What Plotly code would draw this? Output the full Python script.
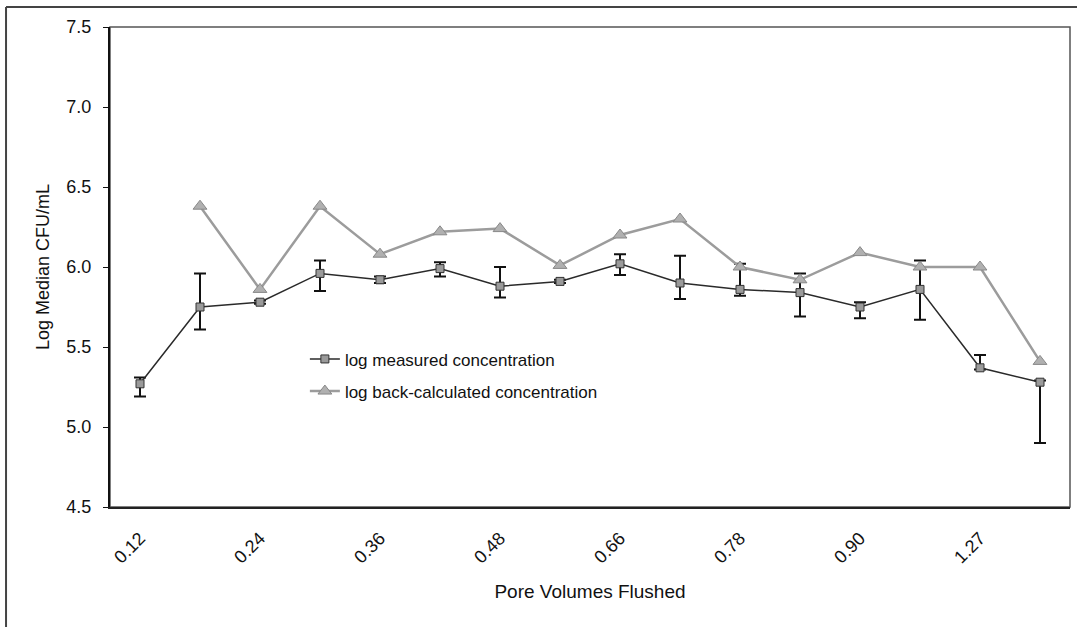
import plotly.graph_objects as go

# Data
point_pos = [0, 1, 2, 3, 4, 5, 6, 7, 8, 9, 10, 11, 12, 13, 14, 15]
tick_pos = [0, 2, 4, 6, 8, 10, 12, 14]
tick_labels = ["0.12", "0.24", "0.36", "0.48", "0.66", "0.78", "0.90", "1.27"]

measured = [5.27, 5.75, 5.78, 5.96, 5.92, 5.99, 5.88, 5.91, 6.02, 5.90, 5.86, 5.84, 5.75, 5.86, 5.37, 5.28]
err_plus = [0.04, 0.21, 0.01, 0.08, 0.02, 0.04, 0.12, 0.01, 0.06, 0.17, 0.16, 0.12, 0.03, 0.18, 0.08, 0.01]
err_minus = [0.08, 0.14, 0.01, 0.11, 0.02, 0.05, 0.07, 0.01, 0.07, 0.10, 0.04, 0.15, 0.07, 0.19, 0.01, 0.38]

back_pos = [1, 2, 3, 4, 5, 6, 7, 8, 9, 10, 11, 12, 13, 14, 15]
back_calc = [6.38, 5.86, 6.38, 6.08, 6.22, 6.24, 6.01, 6.20, 6.30, 6.00, 5.92, 6.09, 6.00, 6.00, 5.41]

y_ticks = [4.5, 5.0, 5.5, 6.0, 6.5, 7.0, 7.5]
y_tick_labels = ["4.5", "5.0", "5.5", "6.0", "6.5", "7.0", "7.5"]

font_family = "Liberation Sans, Arial, sans-serif"

fig = go.Figure()

fig.add_trace(go.Scatter(
    x=point_pos, y=measured,
    mode="lines+markers",
    name="log measured concentration",
    legendgroup="m",
    line=dict(color="#2a2a2a", width=1.5),
    marker=dict(symbol="square", size=8, color="#9a9a9a",
                line=dict(color="#333333", width=1)),
    error_y=dict(type="data", symmetric=False, array=err_plus, arrayminus=err_minus,
                 color="#111111", thickness=2, width=6),
))

fig.add_trace(go.Scatter(
    x=back_pos, y=back_calc,
    mode="lines+markers",
    name="log back-calculated concentration",
    legendgroup="b",
    line=dict(color="#9c9c9c", width=2.5),
    marker=dict(symbol="triangle-up", size=12, color="#b0b0b0",
                line=dict(color="#888888", width=1)),
))

fig.update_layout(
    width=1077, height=627,
    margin=dict(l=110, r=7, t=27, b=120),
    paper_bgcolor="white", plot_bgcolor="white",
    font=dict(family=font_family, size=16, color="#111111"),
    showlegend=True,
    legend=dict(x=0.203, y=0.345, xanchor="left", yanchor="top",
                bgcolor="rgba(0,0,0,0)", font=dict(size=17),
                tracegroupgap=7, itemwidth=30),
    xaxis=dict(
        range=[-0.5, 15.5], tickmode="array", tickvals=tick_pos, ticktext=tick_labels,
        tickangle=-45, showgrid=False, zeroline=False,
        showline=True, linecolor="#222222", linewidth=1.5,
        ticks="", tickfont=dict(size=18), ticklabelstandoff=12,
        title=dict(text="Pore Volumes Flushed", font=dict(size=19), standoff=18),
    ),
    yaxis=dict(
        range=[4.5, 7.5], tickmode="array", tickvals=y_ticks, ticktext=y_tick_labels,
        showgrid=False, zeroline=False,
        showline=True, linecolor="#111111", linewidth=2,
        ticks="outside", ticklen=5, tickwidth=1, tickcolor="#111111",
        tickfont=dict(size=18), ticklabelstandoff=8,
        title=dict(text="Log Median CFU/mL", font=dict(size=18), standoff=12),
    ),
    shapes=[
        dict(type="rect", xref="paper", yref="paper", x0=0, y0=0, x1=1, y1=1,
             line=dict(color="#555555", width=1.5, dash="solid"), layer="below"),
        dict(type="line", xref="paper", yref="paper", x0=-0.1083, y0=1.0417, x1=1.01, y1=1.0417,
             line=dict(color="#444444", width=2)),
        dict(type="line", xref="paper", yref="paper", x0=-0.1083, y0=1.0417, x1=-0.1083, y1=-0.26,
             line=dict(color="#444444", width=2)),
    ],
)

fig.write_html("out.html", config={"displayModeBar": False},
               post_script="document.body.style.margin='0';document.body.style.overflow='hidden';")
